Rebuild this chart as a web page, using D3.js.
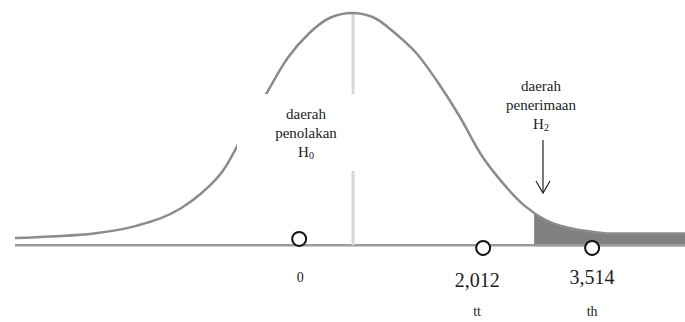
<!DOCTYPE html>
<html>
<head>
<meta charset="utf-8">
<script src="https://cdn.jsdelivr.net/npm/d3@7/dist/d3.min.js"></script>
<style>
  html, body { margin: 0; padding: 0; background: #fff; }
  svg { display: block; }
  text { font-family: "Liberation Serif", "Times New Roman", serif; fill: #222; }
</style>
</head>
<body>
<svg id="chart" width="685" height="322"></svg>
<script>
// Bell curve heights (fraction of the peak) at standardized positions
const curveZ = [-3.92, -3.5, -3, -2.5, -2, -1.75, -1.5, -1.25, -1, -0.75, -0.5, -0.25, 0,
                0.25, 0.5, 0.75, 1, 1.25, 1.5, 1.75, 2, 2.25, 2.5, 2.75, 3, 3.5, 3.87];
const curveH = [0.0, 0.007, 0.02, 0.055, 0.13, 0.2, 0.3, 0.47, 0.64, 0.8, 0.91, 0.98, 1,
                0.98, 0.91, 0.82, 0.69, 0.54, 0.37, 0.245, 0.145, 0.08, 0.047, 0.03, 0.02, 0.02, 0.02];

// Marked points on the axis
const markZ = [-0.616, 1.523, 2.79];
const markH = [-0.004, -0.044, -0.044];
const markValue = ["0", "2,012", "3,514"];
const markName = ["", "tt", "th"];

// Start of the shaded acceptance region
const shadeFrom = 2.116;
const baselineH = -0.032;

const svg = d3.select("#chart");
const x = d3.scaleLinear().domain([-3.92, 3.87]).range([15, 685]);
const y = d3.scaleLinear().domain([0, 1]).range([238, 13]);

const pts = curveZ.map((z, i) => [z, curveH[i]]);

// Shaded tail
svg.append("clipPath").attr("id", "tail")
  .append("rect")
  .attr("x", x(shadeFrom)).attr("y", 0)
  .attr("width", x(3.87) - x(shadeFrom)).attr("height", 322);

const area = d3.area()
  .x(d => x(d[0]))
  .y0(y(baselineH) + 1)
  .y1(d => y(d[1]))
  .curve(d3.curveMonotoneX);

svg.append("path").datum(pts)
  .attr("d", area)
  .attr("fill", "#808080")
  .attr("clip-path", "url(#tail)");

// Baseline
svg.append("line")
  .attr("x1", x(-3.92)).attr("x2", x(3.87))
  .attr("y1", y(baselineH)).attr("y2", y(baselineH))
  .attr("stroke", "#9a9a9a").attr("stroke-width", 2.5);

// Centre line
svg.append("line")
  .attr("x1", x(0.01)).attr("x2", x(0.01))
  .attr("y1", y(1)).attr("y2", y(baselineH))
  .attr("stroke", "#d6d6d6").attr("stroke-width", 3);

// Curve
const line = d3.line()
  .x(d => x(d[0]))
  .y(d => y(d[1]))
  .curve(d3.curveMonotoneX);

svg.append("path").datum(pts)
  .attr("d", line)
  .attr("fill", "none")
  .attr("stroke", "#8c8c8c")
  .attr("stroke-width", 2.5);

// Label panel for the rejection region
svg.append("rect")
  .attr("x", 237).attr("y", 94).attr("width", 131).attr("height", 77)
  .attr("fill", "#fff");

function stackedLabel(cx, top, lines, sub) {
  const g = svg.append("g");
  lines.forEach((t, i) => {
    g.append("text").attr("x", cx).attr("y", top + i * 19)
      .attr("text-anchor", "middle").attr("font-size", 15).text(t);
  });
  const h = g.append("text").attr("x", cx).attr("y", top + lines.length * 19)
    .attr("text-anchor", "middle").attr("font-size", 15);
  h.append("tspan").text("H");
  h.append("tspan").attr("font-size", 10).attr("dy", 2).text(sub);
}

stackedLabel(306, 119, ["daerah", "penolakan"], "0");
stackedLabel(541, 91, ["daerah", "penerimaan"], "2");

// Arrow pointing to the acceptance region
const ax = 543;
svg.append("line").attr("x1", ax).attr("x2", ax).attr("y1", 140).attr("y2", 193)
  .attr("stroke", "#222").attr("stroke-width", 1.2);
svg.append("path")
  .attr("d", `M${ax - 7},181 L${ax},193 L${ax + 7},181`)
  .attr("fill", "none").attr("stroke", "#222").attr("stroke-width", 1.2);

// Markers
markZ.forEach((z, i) => {
  svg.append("circle")
    .attr("cx", x(z)).attr("cy", y(markH[i]))
    .attr("r", 7).attr("fill", "#fff")
    .attr("stroke", "#111").attr("stroke-width", 2);
});

// Values and names below the axis
svg.append("text").attr("x", x(markZ[0]) + 1).attr("y", 282)
  .attr("text-anchor", "middle").attr("font-size", 14).text(markValue[0]);
svg.append("text").attr("x", x(markZ[1]) - 6).attr("y", 287)
  .attr("text-anchor", "middle").attr("font-size", 20).text(markValue[1]);
svg.append("text").attr("x", x(markZ[2])).attr("y", 284)
  .attr("text-anchor", "middle").attr("font-size", 20).text(markValue[2]);
svg.append("text").attr("x", x(markZ[1]) - 6).attr("y", 316)
  .attr("text-anchor", "middle").attr("font-size", 14).text(markName[1]);
svg.append("text").attr("x", x(markZ[2])).attr("y", 316)
  .attr("text-anchor", "middle").attr("font-size", 14).text(markName[2]);
</script>
</body>
</html>
